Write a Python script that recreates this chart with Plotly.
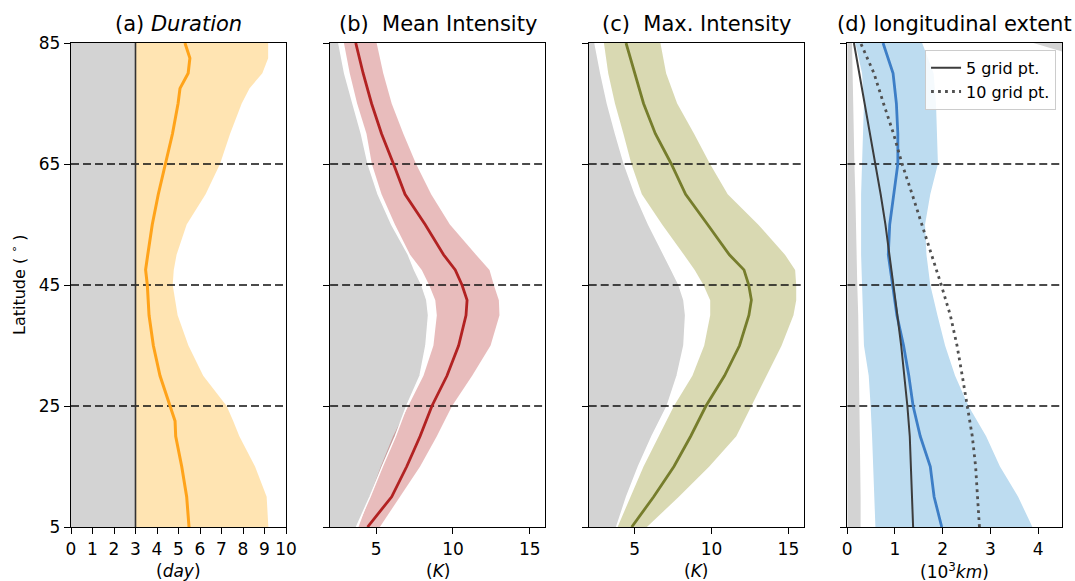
import plotly.graph_objects as go

# ---------------- data ----------------
lat_a = [5, 10, 15, 20, 22.5, 25, 30, 35, 40, 45, 47.5, 50, 55, 60, 65, 70, 75, 77.5, 80, 82.5, 85]
dur_median = [5.49, 5.38, 5.15, 4.87, 4.84, 4.60, 4.14, 3.83, 3.63, 3.55, 3.47, 3.57, 3.78, 4.06, 4.40, 4.72, 4.98, 5.07, 5.45, 5.53, 5.30]
dur_upper = [9.18, 9.10, 8.56, 7.83, 7.55, 7.24, 6.15, 5.46, 4.96, 4.73, 4.78, 4.91, 5.38, 6.26, 6.93, 7.40, 7.94, 8.30, 8.90, 9.17, 9.17]
dur_threshold = 3.0

lat_b = [5, 10, 15, 20, 25, 30, 35, 40, 42.5, 45, 47.5, 50, 55, 60, 65, 70, 75, 80, 85]
mean_med = [4.44, 6.01, 6.99, 7.86, 8.63, 9.61, 10.37, 10.85, 10.92, 10.59, 10.15, 9.39, 8.19, 6.88, 6.13, 5.35, 4.70, 4.15, 3.67]
mean_up = [5.24, 6.55, 7.86, 8.95, 9.94, 11.25, 12.45, 13.03, 12.99, 12.66, 12.38, 11.50, 9.80, 8.58, 7.60, 6.77, 6.01, 5.46, 5.03]
mean_low = [3.85, 4.55, 5.30, 6.10, 7.10, 8.08, 8.73, 8.95, 8.85, 8.45, 7.97, 7.21, 6.22, 5.35, 4.72, 4.37, 3.76, 3.28, 2.90]
gray_b = [3.72, 4.60, 5.40, 6.25, 6.99, 7.86, 8.24, 8.41, 8.30, 7.97, 7.50, 7.10, 6.01, 5.13, 4.48, 4.04, 3.49, 2.95, 2.57]

lat_c = [5, 10, 15, 20, 25, 30, 35, 40, 42.5, 45, 47.5, 50, 55, 60, 65, 70, 75, 80, 85]
max_med = [4.80, 6.23, 7.55, 8.64, 9.63, 10.84, 11.82, 12.43, 12.59, 12.42, 12.11, 11.16, 9.74, 8.31, 7.38, 6.34, 5.57, 4.98, 4.43]
max_up = [5.79, 7.87, 9.85, 11.61, 12.60, 13.58, 14.56, 15.33, 15.51, 15.51, 15.44, 14.78, 13.03, 11.05, 9.90, 8.86, 7.76, 7.04, 6.67]
max_low = [3.88, 4.70, 5.57, 6.56, 7.55, 8.75, 9.52, 9.91, 9.91, 9.47, 8.90, 8.20, 6.78, 5.46, 4.78, 4.26, 3.71, 3.27, 2.99]
gray_c = [3.82, 4.47, 5.24, 6.12, 7.11, 7.76, 8.20, 8.31, 8.20, 7.88, 7.40, 6.89, 5.90, 5.03, 4.32, 3.75, 3.22, 2.79, 2.41]

lat_d = [5, 10, 15, 20, 25, 30, 35, 40, 45, 50, 55, 60, 65, 70, 75, 80, 85]
ext_med = [1.98, 1.82, 1.74, 1.53, 1.38, 1.29, 1.18, 1.04, 0.95, 0.86, 0.89, 0.97, 1.06, 1.06, 1.03, 0.96, 0.75]
ext_up = [3.88, 3.58, 3.20, 2.91, 2.54, 2.26, 2.05, 1.89, 1.74, 1.66, 1.63, 1.74, 1.90, 1.88, 1.86, 1.81, 1.57]
ext_low = [0.59, 0.57, 0.54, 0.52, 0.49, 0.45, 0.35, 0.33, 0.30, 0.29, 0.29, 0.29, 0.31, 0.33, 0.35, 0.31, 0.17]
grid5 = [1.38, 1.36, 1.34, 1.31, 1.26, 1.20, 1.13, 1.05, 0.97, 0.89, 0.80, 0.70, 0.59, 0.48, 0.36, 0.25, 0.14]
grid10 = [2.77, 2.73, 2.69, 2.62, 2.52, 2.41, 2.30, 2.16, 1.97, 1.77, 1.57, 1.36, 1.15, 0.97, 0.76, 0.56, 0.28]
gray_d = [0.28, 0.28, 0.27, 0.27, 0.26, 0.25, 0.24, 0.23, 0.21, 0.20, 0.18, 0.17, 0.15, 0.14, 0.12, 0.11, 0.10]
gray_top_lat = [83.6, 85]
gray_top_x = [4.5, 3.9]

dashed_lats = [25, 45, 65]
lat_ticks = [5, 25, 45, 65, 85]
xr_a, xr_b, xr_c, xr_d = [0, 10], [2, 16], [2, 16], [0, 4.5]
xt_a = list(range(0, 11))
xt_b = [5, 10, 15]
xt_c = [5, 10, 15]
xt_d = [0, 1, 2, 3, 4]

titles = ["(a) <i>Duration</i>", "(b)\u00a0\u00a0Mean Intensity", "(c)\u00a0\u00a0Max. Intensity", "(d) longitudinal extent"]
xlabels = ["(<i>day</i>)", "(<i>K</i>)", "(<i>K</i>)", "(10<sup>3</sup><i>km</i>)"]
ylabel = "Latitude (\u00a0<sup>\u2218</sup>\u00a0)"

GRAY = "#d3d3d3"
FONT = "DejaVu Sans"

fig = go.Figure()


def band(xa, ya, lower, upper, lat, color):
    fig.add_trace(go.Scatter(
        x=list(lower) + list(upper)[::-1], y=list(lat) + list(lat)[::-1],
        fill="toself", fillcolor=color, mode="lines", line=dict(width=0),
        xaxis=xa, yaxis=ya, showlegend=False, hoverinfo="skip"))


def line(xa, ya, x, y, color, width, dash="solid", name=None, legend=False):
    fig.add_trace(go.Scatter(
        x=x, y=y, mode="lines", line=dict(color=color, width=width, dash=dash),
        xaxis=xa, yaxis=ya, name=name, showlegend=legend, hoverinfo="skip"))


def dashed(xa, ya, xr):
    for L in dashed_lats:
        line(xa, ya, xr, [L, L], "#111111", 1.4, dash="8px,4px")


# panel a
band("x", "y", [xr_a[0]] * len(lat_a), [dur_threshold] * len(lat_a), lat_a, GRAY)
band("x", "y", [dur_threshold] * len(lat_a), dur_upper, lat_a, "rgba(255,165,0,0.30)")
dashed("x", "y", xr_a)
line("x", "y", [dur_threshold] * len(lat_a), lat_a, "#333333", 1.6)
line("x", "y", dur_median, lat_a, "#ffa31a", 3)

# panel b
band("x2", "y2", [0] * len(lat_b), gray_b, lat_b, GRAY)
band("x2", "y2", mean_low, mean_up, lat_b, "rgba(178,34,34,0.30)")
line("x2", "y2", gray_b, lat_b, "white", 1.5)
dashed("x2", "y2", xr_b)
line("x2", "y2", mean_med, lat_b, "#b22222", 2.8)

# panel c
band("x3", "y3", [0] * len(lat_c), gray_c, lat_c, GRAY)
band("x3", "y3", max_low, max_up, lat_c, "rgba(128,128,0,0.30)")
line("x3", "y3", gray_c, lat_c, "white", 1.5)
dashed("x3", "y3", xr_c)
line("x3", "y3", max_med, lat_c, "#767d2c", 2.8)

# panel d
band("x4", "y4", [0] * len(lat_d), gray_d, lat_d, GRAY)
band("x4", "y4", gray_top_x, [xr_d[1]] * len(gray_top_lat), gray_top_lat, GRAY)
band("x4", "y4", ext_low, ext_up, lat_d, "#bddcf0")
dashed("x4", "y4", xr_d)
line("x4", "y4", ext_med, lat_d, "#3d7ec6", 2.8)
line("x4", "y4", grid5, lat_d, "#3c3c3c", 2, name="5 grid pt.", legend=True)
line("x4", "y4", grid10, lat_d, "#505050", 2.8, dash="2.8px,4.2px", name="10 grid pt.", legend=True)

domains = [[0.0, 0.21695], [0.26145, 0.4784], [0.5224, 0.7394], [0.7833, 1.0]]
xranges = [xr_a, xr_b, xr_c, xr_d]
xticks = [xt_a, xt_b, xt_c, xt_d]

axis_common = dict(showline=True, linecolor="black", linewidth=1.3, mirror=True,
                   ticks="outside", ticklen=6, tickwidth=1.3, tickcolor="black",
                   showgrid=False, zeroline=False,
                   tickfont=dict(family=FONT, size=17, color="black"))

layout = dict(
    width=1075, height=581,
    margin=dict(l=71, r=13, t=43, b=54),
    paper_bgcolor="white", plot_bgcolor="white",
    font=dict(family=FONT, color="black"),
    showlegend=True,
    legend=dict(x=0.994, y=0.986, xanchor="right", yanchor="top",
                bgcolor="rgba(255,255,255,0.85)", bordercolor="#cccccc", borderwidth=1,
                font=dict(family=FONT, size=16, color="black"), tracegroupgap=0,
                itemwidth=30),
)
annotations = []
for i in range(4):
    xs = "" if i == 0 else str(i + 1)
    layout["xaxis" + xs] = dict(domain=domains[i], range=xranges[i], tickvals=xticks[i],
                                anchor="y" + xs, automargin=False, **axis_common)
    layout["yaxis" + xs] = dict(domain=[0, 1], range=[5, 85], tickvals=lat_ticks,
                                anchor="x" + xs, showticklabels=(i == 0), automargin=False,
                                **axis_common)
    cx = (domains[i][0] + domains[i][1]) / 2
    annotations.append(dict(text=titles[i], x=cx, y=1.039, xref="paper", yref="paper",
                            xanchor="center", yanchor="middle", showarrow=False,
                            font=dict(family=FONT, size=21, color="black")))
    annotations.append(dict(text=xlabels[i], x=cx, y=-0.091, xref="paper", yref="paper",
                            xanchor="center", yanchor="middle", showarrow=False,
                            font=dict(family=FONT, size=17, color="black")))
annotations.append(dict(text=ylabel, x=(18 - 71) / 991, y=0.5, xref="paper", yref="paper",
                        showarrow=False, textangle=-90, xanchor="center", yanchor="middle",
                        font=dict(family=FONT, size=16, color="black")))
layout["annotations"] = annotations
fig.update_layout(**layout)

fig.write_html("out.html", config={"displayModeBar": False},
               post_script="document.body.style.margin='0';document.body.style.overflow='hidden';")
